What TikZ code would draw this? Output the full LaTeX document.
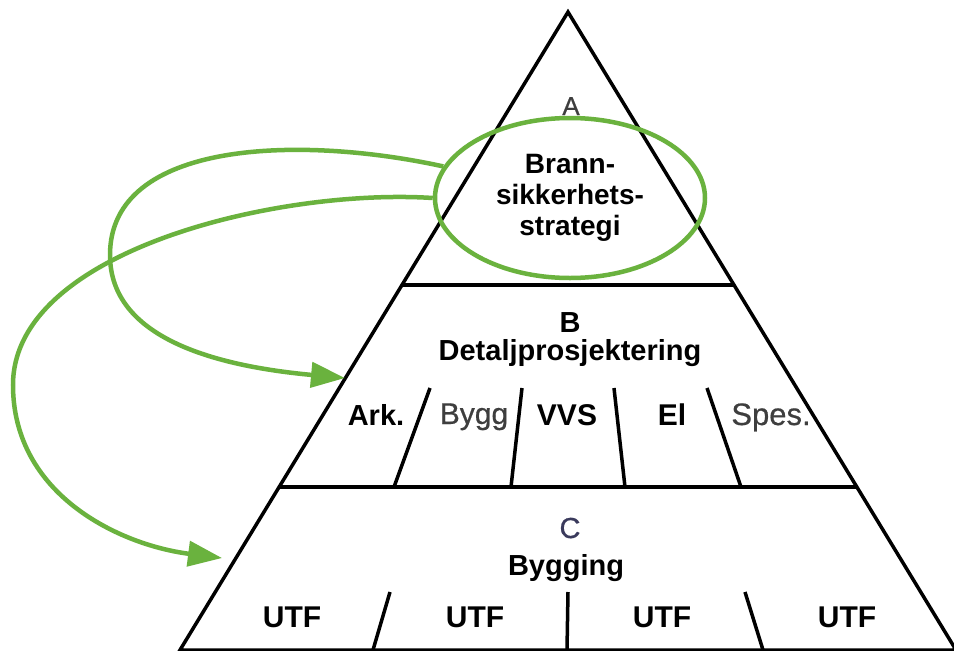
\documentclass[tikz,border=0pt]{standalone}
\usepackage{fontspec}
\setmainfont{Liberation Sans}
\newfontfamily\medfont[FakeBold=0.6]{Liberation Sans}
\usetikzlibrary{arrows.meta,shapes.geometric,calc}
\definecolor{grn}{RGB}{106,178,62}
\definecolor{txtgray}{RGB}{62,62,62}
\definecolor{cblue}{RGB}{58,58,92}
\begin{document}
\begin{tikzpicture}[x=1pt,y=-1pt,
  edge/.style={line width=3.5pt, black, line join=miter},
  grnline/.style={draw=grn, line width=4.5pt},
  grnarrow/.style={grnline, -{Triangle[length=34pt,width=25pt]}},
  lbl/.style={anchor=base, inner sep=0pt, font=\bfseries\fontsize{29}{31}\selectfont},
  lblr/.style={anchor=base, inner sep=0pt, text=txtgray, font=\medfont\fontsize{30}{32}\selectfont},
]
\useasboundingbox[fill=white] (0,0) rectangle (954,651);
% pyramid
\coordinate (apex) at (568,12);
\coordinate (bl) at (180,650);
\coordinate (br) at (956,650);
\coordinate (abL) at ($(apex)!0.4279!(bl)$);
\coordinate (abR) at ($(apex)!0.4279!(br)$);
\coordinate (bcL) at ($(apex)!0.7445!(bl)$);
\coordinate (bcR) at ($(apex)!0.7445!(br)$);
\draw[edge, fill=white] (apex) -- (bl) -- (br) -- cycle;
\draw[edge] (abL) -- (abR);
\draw[edge] (bcL) -- (bcR);
% dividers in B
\coordinate (b1t) at (430,388); \coordinate (b1b) at (394,487);
\coordinate (b2t) at (522,388); \coordinate (b2b) at (511,487);
\coordinate (b3t) at (614,388); \coordinate (b3b) at (625,487);
\coordinate (b4t) at (707,388); \coordinate (b4b) at (741,487);
\draw[edge] (b1t) -- (b1b);
\draw[edge] (b2t) -- (b2b);
\draw[edge] (b3t) -- (b3b);
\draw[edge] (b4t) -- (b4b);
% dividers in C
\coordinate (c1t) at (390,592); \coordinate (c1b) at (373,650);
\coordinate (c2t) at (568,592); \coordinate (c2b) at (567,650);
\coordinate (c3t) at (745,592); \coordinate (c3b) at (763,650);
\draw[edge] (c1t) -- (c1b);
\draw[edge] (c2t) -- (c2b);
\draw[edge] (c3t) -- (c3b);
% texts
\node[lblr, text=txtgray, font=\medfont\fontsize{26}{28}\selectfont] (tA) at (571,115) {A};
\node[lbl] (tB) at (570,332) {B};
\node[lbl] (tDet) at (570,360) {Detaljprosjektering};
\node[lbl] (tArk) at (376,425) {Ark.};
\node[lblr] (tBygg) at (474,424) {Bygg};
\node[lbl, font=\bfseries\fontsize{30}{32}\selectfont] (tVVS) at (567,425) {VVS};
\node[lbl, font=\bfseries\fontsize{30}{32}\selectfont] (tEl) at (672,425) {El};
\node[lblr, font=\medfont\fontsize{31}{33}\selectfont] (tSpes) at (771,425) {Spes.};
\node[lblr, text=cblue, font=\medfont\fontsize{29}{31}\selectfont] (tC) at (570,538) {C};
\node[lbl] (tBygging) at (566,575) {Bygging};
\node[lbl, font=\bfseries\fontsize{30}{32}\selectfont] (u1) at (292,627) {UTF};
\node[lbl, font=\bfseries\fontsize{30}{32}\selectfont] (u2) at (475,627) {UTF};
\node[lbl, font=\bfseries\fontsize{30}{32}\selectfont] (u3) at (662,627) {UTF};
\node[lbl, font=\bfseries\fontsize{30}{32}\selectfont] (u4) at (847,627) {UTF};
% strategy ellipse
\node[ellipse, grnline, minimum width=270pt, minimum height=160pt, inner sep=0pt,
      align=center, font=\bfseries\fontsize{28}{31}\selectfont] (strat) at (570,198)
      {Brann-\\sikkerhets-\\strategi};
% arrows
\coordinate (tipB) at (345,378);
\coordinate (tipC) at (222,558);
\draw[grnarrow] (strat.166) .. controls (300,135) and (110,140) .. (110,255)
   .. controls (110,338) and (215,366) .. (tipB);
\draw[grnarrow] (strat.180) .. controls (280,188) and (13,250) .. (13,385)
   .. controls (13,495) and (120,545) .. (tipC);
\end{tikzpicture}
\end{document}
